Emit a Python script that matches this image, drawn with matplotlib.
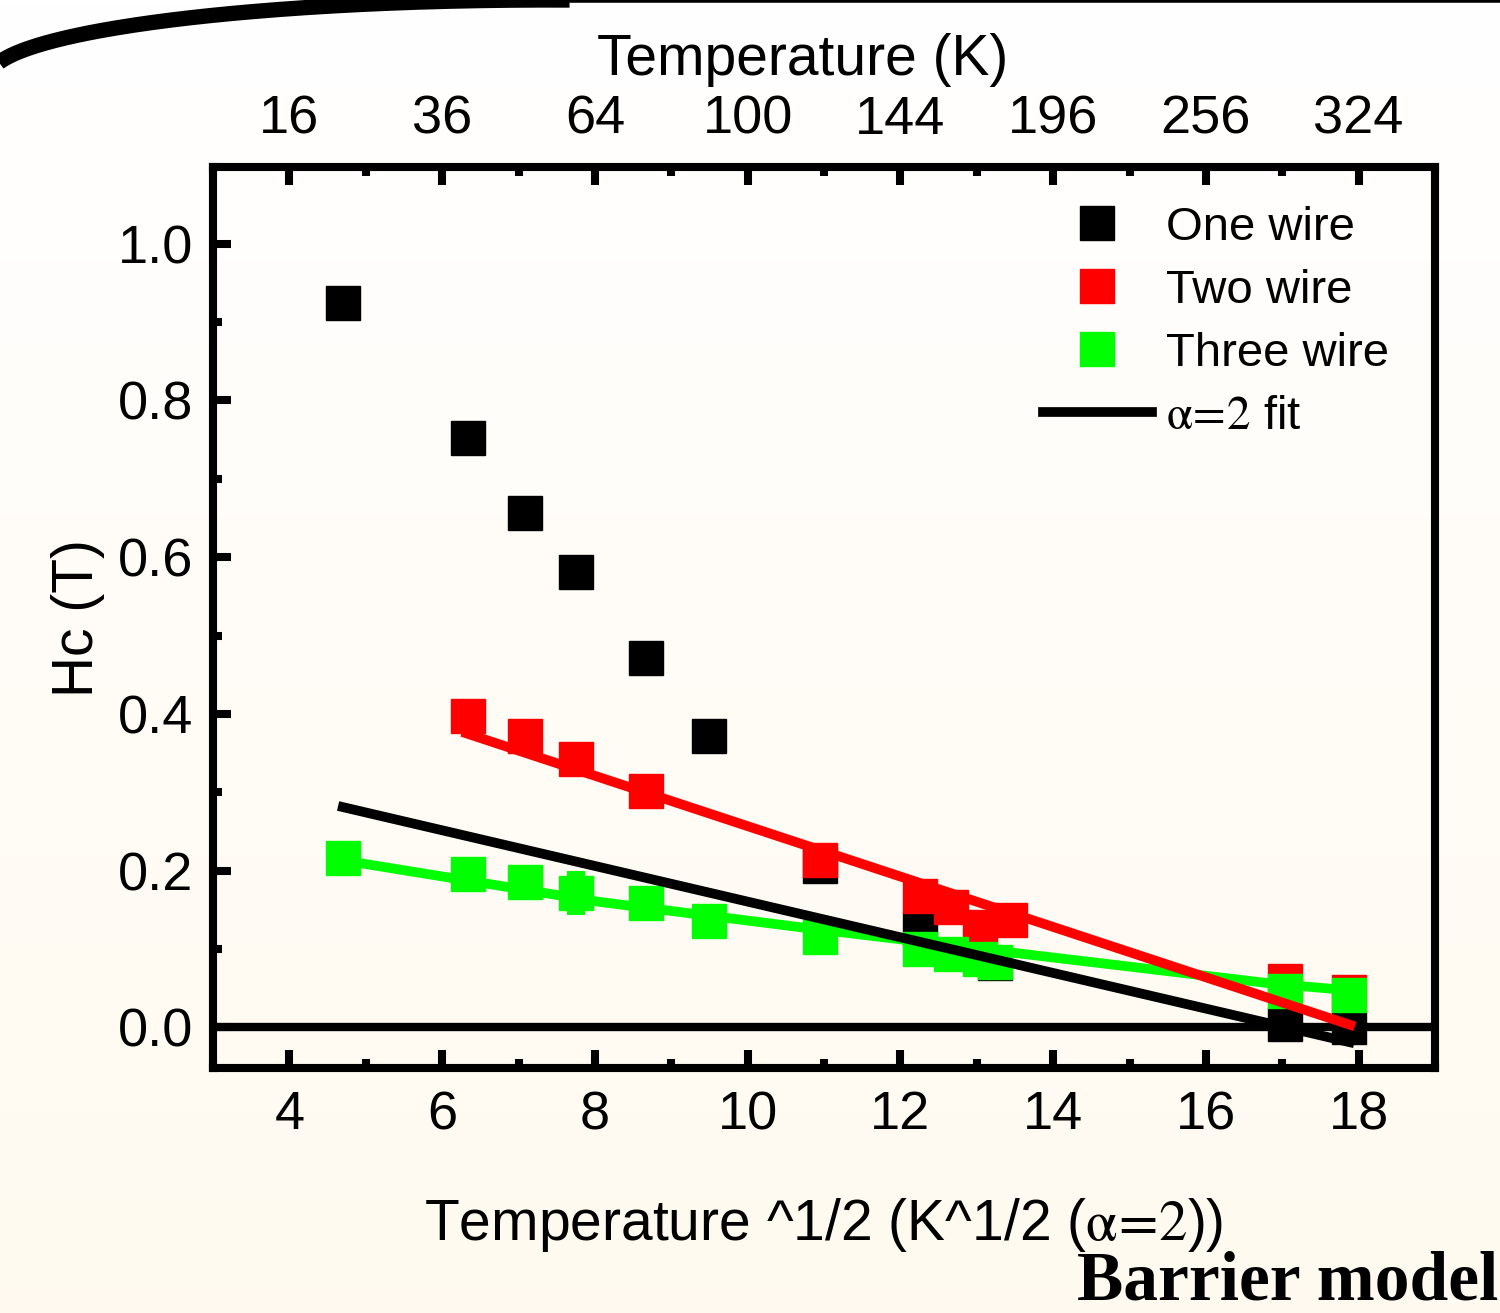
import numpy as np
import matplotlib.pyplot as plt
from matplotlib.lines import Line2D
from matplotlib.ticker import MultipleLocator

plt.rcParams['font.family'] = ['Liberation Sans', 'DejaVu Sans']
plt.rcParams['mathtext.fontset'] = 'stix'

# data (x = sqrt(T))
one_x = [4.70, 6.34, 7.08, 7.75, 8.67, 9.50, 10.95, 12.26, 13.24, 17.04, 17.88]
one_y = [0.924, 0.752, 0.656, 0.581, 0.471, 0.372, 0.206, 0.126, 0.082, 0.004, 0.0]

two_x = [6.34, 7.08, 7.75, 8.67, 10.95, 12.26, 12.66, 13.04, 13.43, 17.04, 17.88]
two_y = [0.397, 0.372, 0.342, 0.302, 0.214, 0.168, 0.153, 0.128, 0.137, 0.059, 0.045]

three_x = [4.70, 6.34, 7.08, 7.75, 8.67, 9.50, 10.95, 12.26, 12.66, 13.04, 13.24, 17.04, 17.88]
three_y = [0.216, 0.195, 0.186, 0.171, 0.158, 0.135, 0.115, 0.100, 0.094, 0.087, 0.083, 0.046, 0.041]
three_err = [0, 0, 0, 0.028, 0, 0, 0, 0, 0, 0, 0, 0, 0]

# alpha=2 fit curves
fit1_x = [4.70, 17.88]
fit1_y = [0.281, -0.019]
fit2_x = [6.32, 17.89]
fit2_y = [0.375, 0.003]
fit3_x = [4.70, 8.06, 10.99, 16.84, 17.89]
fit3_y = [0.213, 0.160, 0.124, 0.056, 0.047]

xticks = [4, 6, 8, 10, 12, 14, 16, 18]
top_labels = [str(t * t) for t in xticks]

W, H = 1500, 1313
fig = plt.figure(figsize=(W / 100, H / 100), dpi=100)

# background gradient
bg = fig.add_axes([0, 0, 1, 1], zorder=-10)
grad = np.linspace(0, 1, 256).reshape(-1, 1)
top_c = np.array([1.0, 1.0, 1.0])
bot_c = np.array([1.0, 0.980, 0.940])
img = top_c + (bot_c - top_c) * grad[..., None]
bg.imshow(img.reshape(256, 1, 3), aspect='auto', extent=[0, 1, 0, 1], origin='upper')
bg.set_axis_off()

# slide border corner (rounded)
t = np.radians(np.linspace(88, 176, 200))
cx = 550 + 560 * np.cos(t)
cy = 76 - 76 * np.sin(t)
fig.add_artist(Line2D(cx / W, 1 - cy / H, transform=fig.transFigure, color='black', lw=11,
                      solid_capstyle='butt'))
fig.add_artist(Line2D([530 / W, 1.0], [1.0, 1.0], transform=fig.transFigure, color='black', lw=4))

ax = fig.add_axes([213 / W, 1 - 1068 / H, (1435 - 213) / W, (1068 - 167) / H])
ax.set_facecolor('none')

ax.axhline(0, color='black', lw=6, zorder=1)

ms = 24
ax.plot(one_x, one_y, 's', color='black', ms=ms, mec='black', zorder=3, label='One wire')
ax.plot(two_x, two_y, 's', color='#ff0000', ms=ms, mec='#ff0000', zorder=4, label='Two wire')
ax.errorbar(three_x, three_y, yerr=three_err, fmt='none', ecolor='#00ff00', elinewidth=13, capsize=0, zorder=5)
ax.plot(three_x, three_y, 's', color='#00ff00', ms=ms, mec='#00ff00', zorder=5, label='Three wire')

ax.plot(fit3_x, fit3_y, color='#00ff00', lw=7, zorder=6)
ax.plot(fit1_x, fit1_y, color='black', lw=7, zorder=7, label=r'$\mathrm{\alpha\!=\!2}$ fit')
ax.plot(fit2_x, fit2_y, color='#ff0000', lw=7, zorder=8)

ax.set_xlim(3, 19)
ax.set_ylim(-0.052, 1.098)
ax.set_xticks(xticks)
ax.set_yticks([0.0, 0.2, 0.4, 0.6, 0.8, 1.0])
ax.set_yticklabels(['0.0', '0.2', '0.4', '0.6', '0.8', '1.0'])
ax.xaxis.set_minor_locator(MultipleLocator(1))
ax.yaxis.set_minor_locator(MultipleLocator(0.1))
ax.tick_params(which='both', direction='in', width=5.8, labelsize=39, right=False, top=False)
ax.tick_params(which='major', length=13)
ax.tick_params(which='minor', length=6.5)
ax.tick_params(axis='x', pad=16)
ax.tick_params(axis='y', pad=14)
for s in ax.spines.values():
    s.set_linewidth(5.8)

top = ax.twiny()
top.set_xlim(ax.get_xlim())
top.set_xticks(xticks)
top.set_xticklabels(top_labels)
top.xaxis.set_minor_locator(MultipleLocator(1))
top.tick_params(which='both', direction='in', width=5.8, labelsize=39, pad=16)
top.tick_params(which='major', length=13)
top.tick_params(which='minor', length=6.5)
for s in top.spines.values():
    s.set_linewidth(5.8)

fig.text(803 / W, 1 - 75 / H, 'Temperature (K)', fontsize=41, ha='center', va='baseline')
fig.text(824 / W, 1 - 1240 / H, r'Temperature ^1/2 (K^1/2 ($\mathrm{\alpha\!=\!2}$))', fontsize=41,
         ha='center', va='baseline')
fig.text(78 / W, 1 - 618 / H, 'Hc (T)', fontsize=41, rotation=90, ha='center', va='center')
fig.text(1498 / W, 1 - 1300 / H, 'Barrier model', fontsize=50, fontweight='bold',
         family='Liberation Serif', ha='right', va='baseline')

leg = ax.legend(loc='upper left', bbox_to_anchor=(1043 / W, 1 - 206 / H),
                bbox_transform=fig.transFigure, frameon=False, fontsize=34,
                handlelength=2.3, handletextpad=0.3, labelspacing=0.4,
                borderpad=0, borderaxespad=0, markerscale=1.0)

fig.savefig('out.png', dpi=100)
